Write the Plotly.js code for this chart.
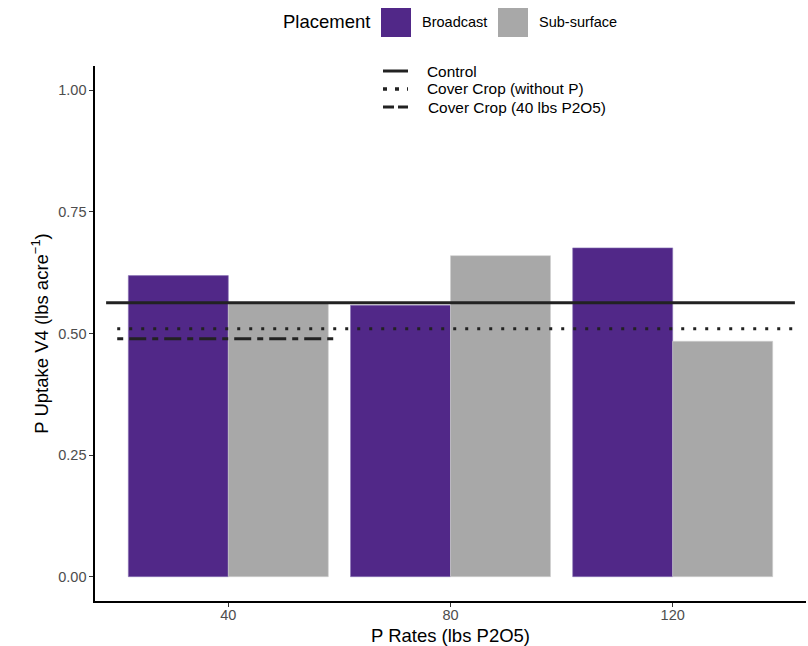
<!DOCTYPE html>
<html>
<head>
<meta charset="utf-8">
<script src="https://cdn.plot.ly/plotly-3.0.1.min.js"></script>
<style>html,body{margin:0;padding:0;background:#fff;overflow:hidden;}#chart{width:808px;height:646px;}</style>
</head>
<body>
<div id="chart"></div>
<script>
// ---- data ----
const rates = ["40", "80", "120"];
const broadcast = [0.619, 0.558, 0.676];
const subSurface = [0.562, 0.660, 0.484];
const controlVal = 0.563;
const coverCropNoP = 0.510;
const coverCrop40 = 0.489;
const lineNames = ["Control", "Cover Crop (without P)", "Cover Crop (40 lbs P2O5)"];
const placementNames = ["Broadcast", "Sub-surface"];

// ---- layout helpers ----
const W = 808, H = 646;
const M = {l: 95, r: 2, t: 66, b: 45};
const pw = W - M.l - M.r, ph = H - M.t - M.b;
const px = x => (x - M.l) / pw;
const py = y => (H - M.b - y) / ph;

const xs = rates.map((_, i) => i + 1);
const n = rates.length;
const FONT = "Liberation Sans, Arial, sans-serif";
const PURPLE = "#512888", GREY = "#A8A8A8", LINE = "#222222";

const traces = [
  {type: "bar", x: xs, y: broadcast, name: placementNames[0], marker: {color: PURPLE, line: {width: 0.6, color: "#8a73b5"}}, showlegend: false},
  {type: "bar", x: xs, y: subSurface, name: placementNames[1], marker: {color: GREY, line: {width: 0.6, color: "#cfcfcf"}}, showlegend: false},
  {type: "scatter", mode: "lines", x: [1 - 0.55, n + 0.55], y: [controlVal, controlVal], name: lineNames[0],
   line: {color: LINE, width: 3}, showlegend: false},
  {type: "scatter", mode: "lines", x: [1 - 0.5, n + 0.54], y: [coverCropNoP, coverCropNoP], name: lineNames[1],
   line: {color: LINE, width: 3, dash: "3px,9px"}, showlegend: false},
  {type: "scatter", mode: "lines", x: [1 - 0.5, 1 + 0.48], y: [coverCrop40, coverCrop40], name: lineNames[2],
   line: {color: LINE, width: 3, dash: "6px,6px,17px,6px"}, showlegend: false}
];

// legends: keys + labels (large square keys like the reference)
const shapes = [
  {type: "rect", xref: "paper", yref: "paper", x0: px(381), x1: px(411), y0: py(37), y1: py(8), fillcolor: PURPLE, line: {width: 0}},
  {type: "rect", xref: "paper", yref: "paper", x0: px(498), x1: px(528), y0: py(37), y1: py(8), fillcolor: GREY, line: {width: 0}},
  {type: "line", xref: "paper", yref: "paper", x0: px(383), x1: px(408), y0: py(71), y1: py(71), line: {color: LINE, width: 3}},
  {type: "line", xref: "paper", yref: "paper", x0: px(383), x1: px(408), y0: py(89), y1: py(89), line: {color: LINE, width: 3.5, dash: "4px,8px"}},
  {type: "line", xref: "paper", yref: "paper", x0: px(383), x1: px(408), y0: py(107), y1: py(107), line: {color: LINE, width: 3, dash: "11px,4px"}}
];
const ann = (x, y, text, size) => ({xref: "paper", yref: "paper", x: px(x), y: py(y), xanchor: "left", yanchor: "middle",
  showarrow: false, text: text, font: {family: FONT, size: size, color: "#000"}});
const annotations = [
  ann(281, 22, "Placement", 18.5),
  ann(420, 22, placementNames[0], 14.5),
  ann(537, 22, placementNames[1], 14.5),
  ann(425, 71, lineNames[0], 15.4),
  ann(425, 89, lineNames[1], 15.4),
  ann(426, 107, lineNames[2], 15.4)
];

const layout = {
  width: W, height: H,
  margin: M,
  paper_bgcolor: "#fff", plot_bgcolor: "#fff",
  font: {family: FONT, color: "#000"},
  barmode: "group", bargap: 0.1, bargroupgap: 0,
  showlegend: false,
  xaxis: {
    range: [0.4, 3.6], tickmode: "array", tickvals: xs, ticktext: rates,
    showgrid: false, zeroline: false, showline: true, linecolor: "#000", linewidth: 1.6,
    ticks: "outside", ticklen: 4, tickcolor: "#333", tickwidth: 1, ticklabelstandoff: -4,
    tickfont: {family: FONT, size: 14.5, color: "#4d4d4d"},
    title: {text: "P Rates (lbs P2O5)", font: {family: FONT, size: 18.5, color: "#000"}, standoff: 7}
  },
  yaxis: {
    range: [-0.05, 1.05], tickmode: "array", tickvals: [0, 0.25, 0.5, 0.75, 1.0],
    ticktext: ["0.00", "0.25", "0.50", "0.75", "1.00"],
    showgrid: false, zeroline: false, showline: true, linecolor: "#000", linewidth: 1.6,
    ticks: "outside", ticklen: 4, tickcolor: "#333", tickwidth: 1,
    tickfont: {family: FONT, size: 14.5, color: "#4d4d4d"},
    title: {text: "P Uptake V4 (lbs acre<sup>−1</sup>)", font: {family: FONT, size: 18.5, color: "#000"}, standoff: 5}
  },
  shapes: shapes,
  annotations: annotations
};

Plotly.newPlot("chart", traces, layout, {displayModeBar: false, staticPlot: true});
</script>
</body>
</html>
